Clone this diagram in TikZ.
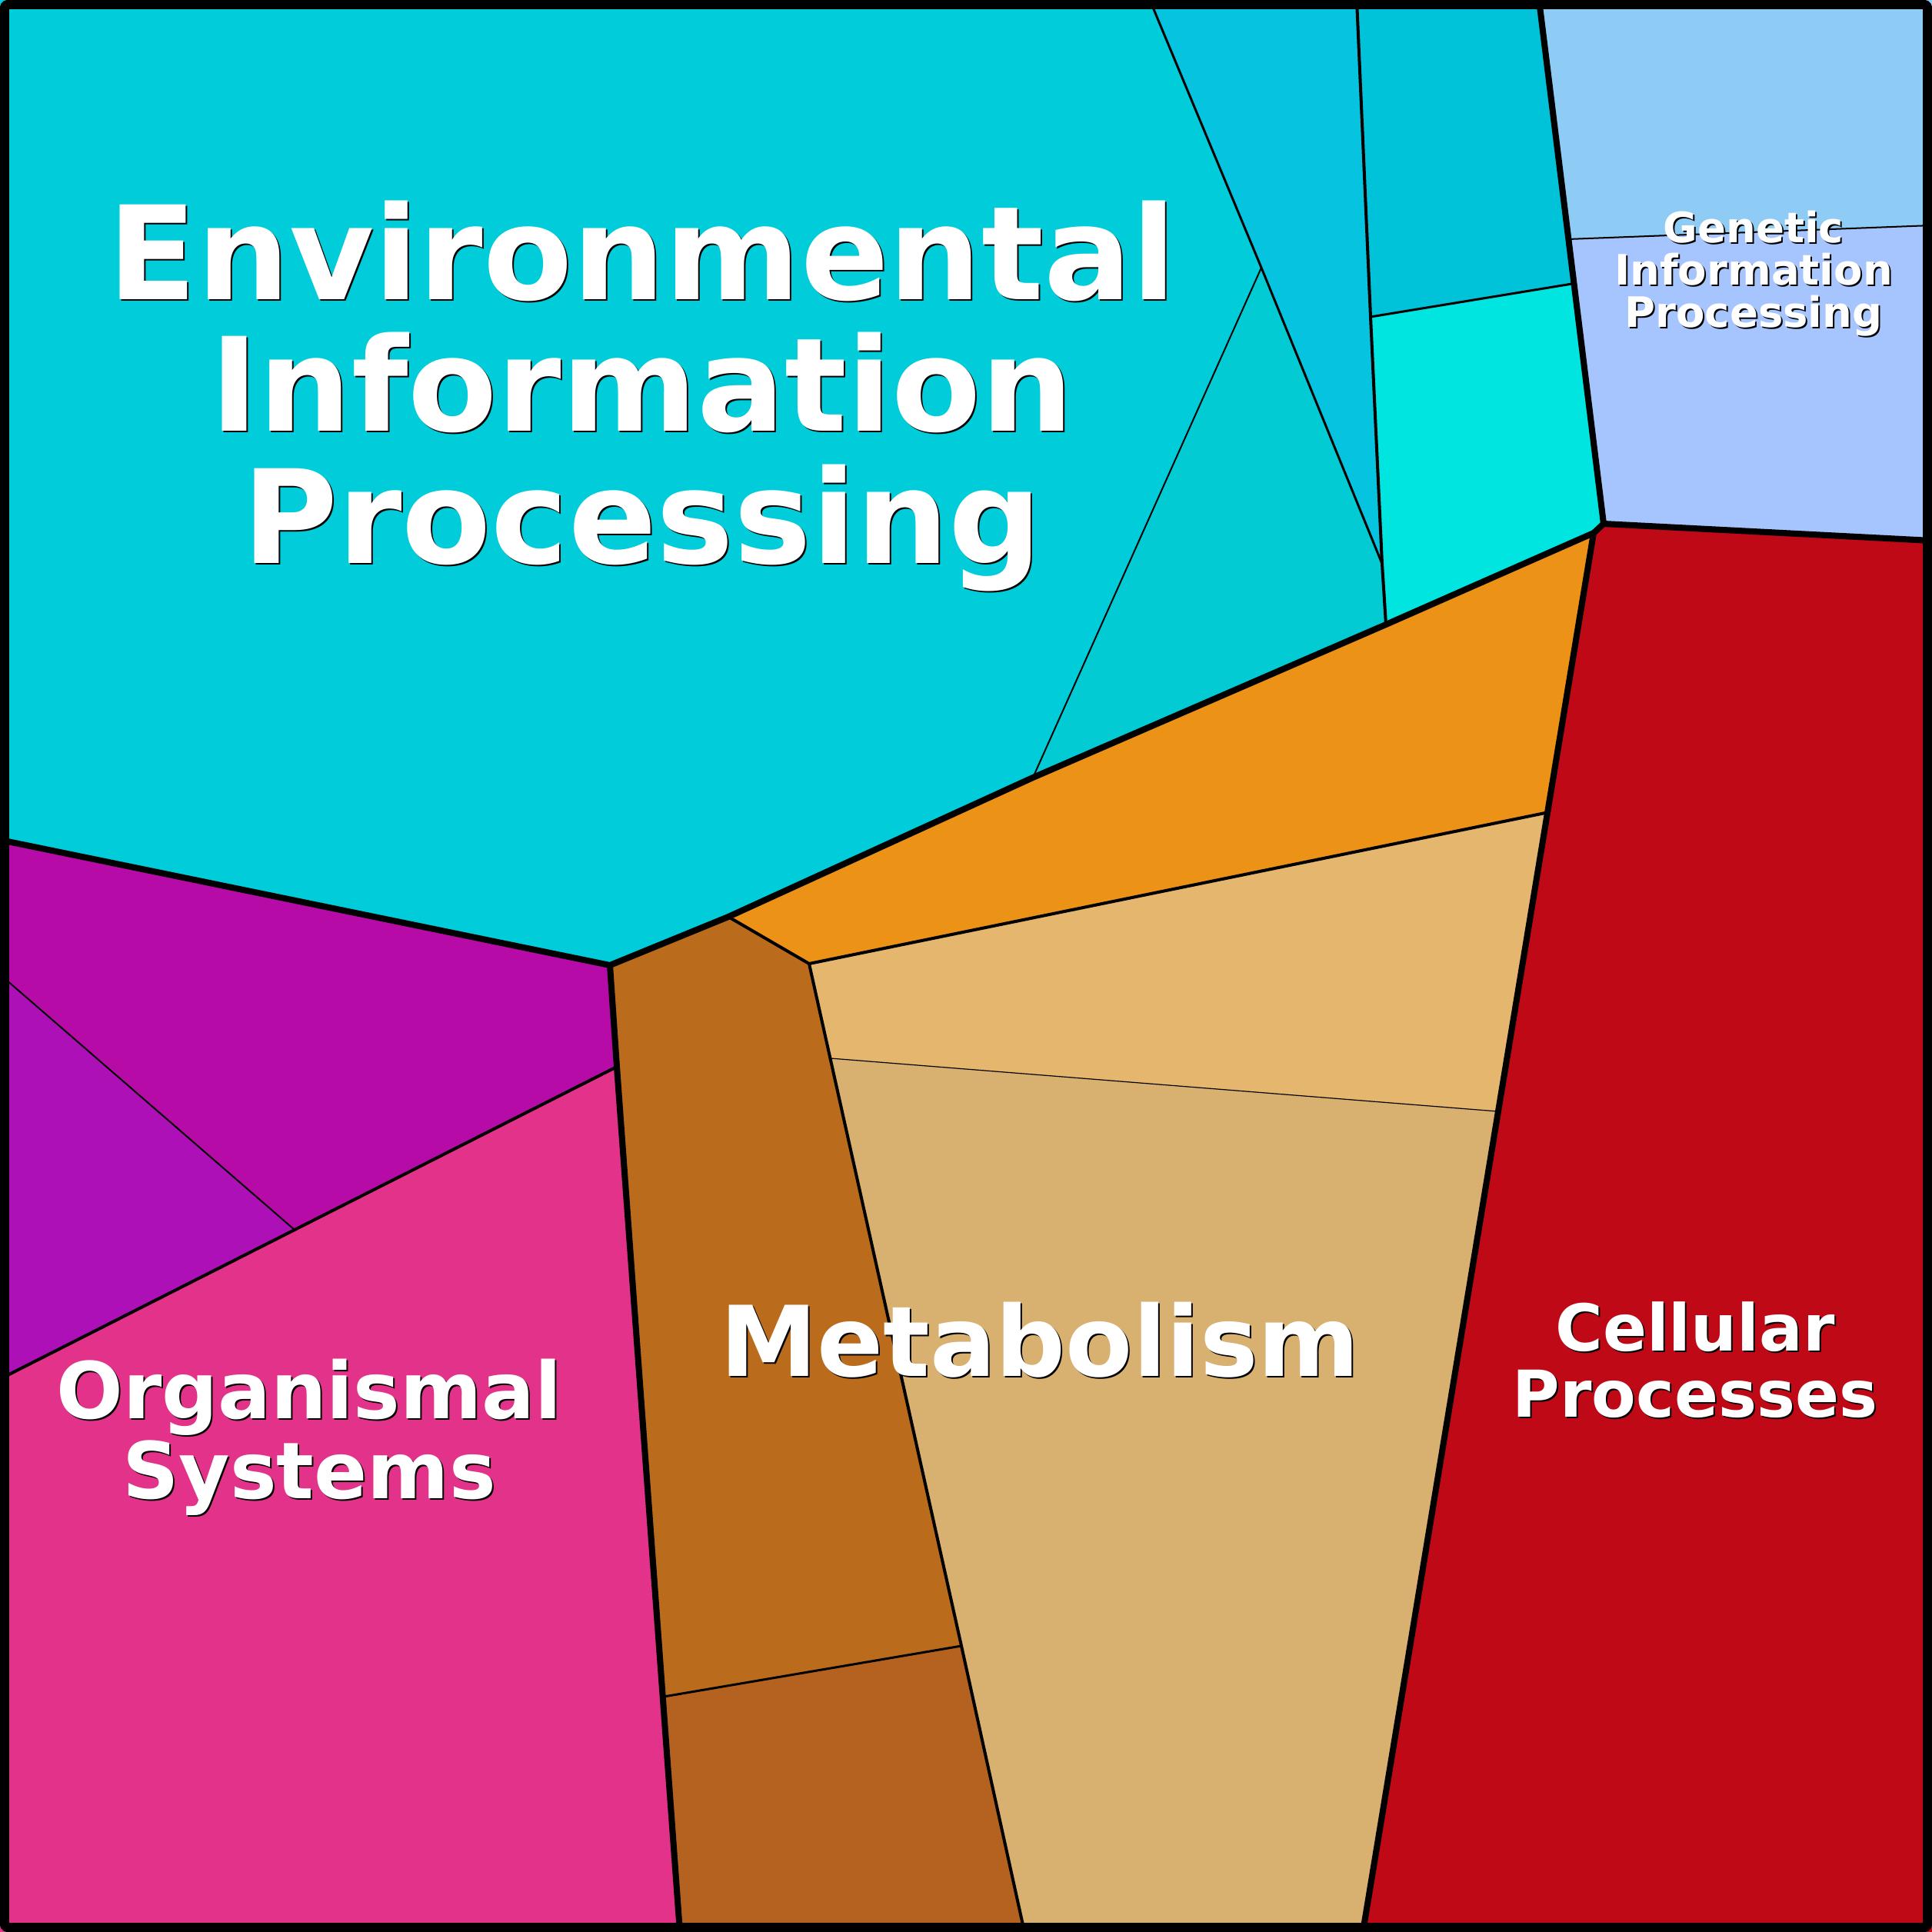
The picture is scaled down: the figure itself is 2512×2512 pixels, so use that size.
\documentclass[tikz,border=0pt]{standalone}
\usepackage{fontspec}
\setmainfont{DejaVu Sans}
\usepackage{tikz}
\definecolor{envMain}{HTML}{00CCDA}
\definecolor{envTri}{HTML}{03CBD3}
\definecolor{envSlice}{HTML}{06C4DF}
\definecolor{envTop}{HTML}{00C3D9}
\definecolor{envBright}{HTML}{00E5E0}
\definecolor{genTop}{HTML}{8ECBF5}
\definecolor{genBot}{HTML}{A6C4FD}
\definecolor{cellRed}{HTML}{C00916}
\definecolor{metOrange}{HTML}{EB9217}
\definecolor{metLight}{HTML}{E5B66E}
\definecolor{metTan}{HTML}{D8B070}
\definecolor{metBrown}{HTML}{BA6C1C}
\definecolor{metDark}{HTML}{B56220}
\definecolor{orgPurple}{HTML}{B70BA8}
\definecolor{orgViolet}{HTML}{AD10B6}
\definecolor{orgPink}{HTML}{E2328A}
\newcommand\Label[5]{
\node[label text,text=black,font={\fontsize{#3}{#4}\bfseries\selectfont}]
  at ([shift={(2,2)}]#2) {#5};
\node[label text,font={\fontsize{#3}{#4}\bfseries\selectfont}]
  (#1) at (#2) {#5};
}

\begin{document}
\begin{tikzpicture}[x=0.01cm,y=-0.01cm,line join=round,
  cell/.style={fill=#1,draw=none},
  major/.style={line width=2.28pt},
  minor/.style={line width=1.14pt},
  fine/.style={line width=0.57pt},
  label text/.style={anchor=base,align=center,inner sep=0pt,text=white}]
\useasboundingbox (0,0) rectangle (2512,2512);
\coordinate (T1) at (1495,0);
\coordinate (T2) at (1764,0);
\coordinate (T3) at (2001,0);
\coordinate (E1) at (1640,348);
\coordinate (E2) at (1797,733);
\coordinate (E3) at (1802,812);
\coordinate (E4) at (1343,1011);
\coordinate (E5) at (1782,412);
\coordinate (E6) at (2044,369);
\coordinate (V1) at (793,1255);
\coordinate (V2) at (2085,681);
\coordinate (V3) at (2072,693);
\coordinate (L1) at (0,1092);
\coordinate (L2) at (0,1267);
\coordinate (L3) at (0,1793);
\coordinate (G1) at (2039,311);
\coordinate (G2) at (2512,293);
\coordinate (G3) at (2512,703);
\coordinate (M1) at (947,1192);
\coordinate (M2) at (1052,1253);
\coordinate (O2) at (2009,1057);
\coordinate (O3) at (1947,1445);
\coordinate (O4) at (1080,1376);
\coordinate (B1) at (863,2206);
\coordinate (B2) at (1250,2140);
\coordinate (P1) at (802,1387);
\coordinate (P2) at (383,1599);
\coordinate (D1) at (884,2512);
\coordinate (D2) at (1332,2512);
\coordinate (D3) at (1772,2512);

\fill[cell=envMain]
  (0,0) -- (T1) -- (E1) -- (E4) -- (M1) -- (V1) -- (L1) -- cycle;
\fill[cell=envTri]
  (E1) -- (E2) -- (E3) -- (E4) -- cycle;
\fill[cell=envSlice]
  (T1) -- (T2) -- (E5) -- (E2) -- (E1) -- cycle;
\fill[cell=envTop]
  (T2) -- (T3) -- (E6) -- (E5) -- cycle;
\fill[cell=envBright]
  (E5) -- (E6) -- (V2) -- (V3) -- (E3) -- (E2) -- cycle;
\fill[cell=genTop]
  (T3) -- (2512,0) -- (G2) -- (G1) -- cycle;
\fill[cell=genBot]
  (G1) -- (G2) -- (G3) -- (V2) -- cycle;
\fill[cell=cellRed]
  (V2) -- (G3) -- (2512,2512) -- (D3) -- (V3) -- cycle;
\fill[cell=metOrange]
  (M1) -- (E4) -- (E3) -- (V3) -- (O2) -- (M2) -- cycle;
\fill[cell=metLight]
  (M2) -- (O2) -- (O3) -- (O4) -- cycle;
\fill[cell=metTan]
  (O4) -- (O3) -- (D3) -- (D2) -- (B2) -- cycle;
\fill[cell=metBrown]
  (V1) -- (M1) -- (M2) -- (B2) -- (B1) -- cycle;
\fill[cell=metDark]
  (B1) -- (B2) -- (D2) -- (D1) -- cycle;
\fill[cell=orgPurple]
  (L1) -- (V1) -- (P1) -- (P2) -- (L2) -- cycle;
\fill[cell=orgViolet]
  (L2) -- (P2) -- (L3) -- cycle;
\fill[cell=orgPink]
  (L3) -- (P2) -- (P1) -- (D1) -- (0,2512) -- cycle;

\draw[fine]
  (E1) -- (E4)
  (L2) -- (P2)
  (G1) -- (G2);
\draw[line width=0.34pt]
  (O4) -- (O3);
\draw[line width=0.85pt]
  (T1) -- (E1) -- (E2)
  (E5) -- (E6)
  (B1) -- (B2);
\draw[minor]
  (T2) -- (E5) -- (E2) -- (E3)
  (M1) -- (M2) -- (B2) -- (D2)
  (M2) -- (O2)
  (P1) -- (P2) -- (L3);
\draw[major]
  (L1) -- (V1) -- (M1) -- (E4) -- (E3) -- (V3) -- (V2) -- (T3)
  (V1) -- (P1) -- (D1)
  (V3) -- (D3)
  (V2) -- (G3);
\draw[line width=3.41pt,rounded corners=1pt]
  (6,6) rectangle (2506,2506);

\Label{env}{835,732}{48.1pt}{48.65pt}{Environmental\\Information\\Processing}
\Label{gen}{2280,425}{15.5pt}{15.5pt}{Genetic\\Information\\Processing}
\Label{met}{1352,1789}{36.1pt}{36.1pt}{Metabolism}
\Label{org}{402,1948}{29pt}{29.3pt}{Organismal\\Systems}
\Label{cel}{2204,1842}{23.9pt}{24.2pt}{Cellular\\Processes}
\end{tikzpicture}
\end{document}
